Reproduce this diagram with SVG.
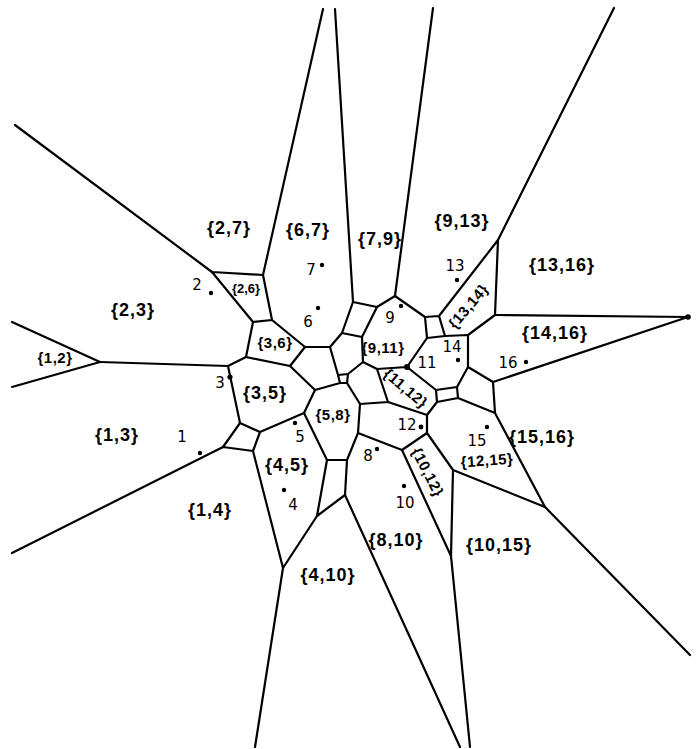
<svg xmlns="http://www.w3.org/2000/svg" width="699" height="749" viewBox="0 0 699 749">
<style>
.e{stroke:#000;stroke-width:2.2;fill:none;stroke-linecap:round;stroke-linejoin:round}
.lb{font-family:"Liberation Sans",Arial,sans-serif;font-weight:bold;font-size:18px;fill:#000;text-anchor:middle;dominant-baseline:central;letter-spacing:1px}
.sm{font-size:15px;letter-spacing:0.5px}
.xs{font-size:13px;letter-spacing:0}
.nm{font-family:"DejaVu Sans",sans-serif;font-size:15px;fill:#000;text-anchor:middle;dominant-baseline:central}
.dt{fill:#000}
</style>
<rect width="699" height="749" fill="#fff"/>
<g id="connectors" class="e">
<line x1="15" y1="125" x2="212" y2="272"/>
<line x1="12" y1="322" x2="100" y2="362"/>
<line x1="12" y1="387" x2="100" y2="362"/>
<line x1="12" y1="553" x2="223" y2="447"/>
<line x1="255" y1="747" x2="283" y2="568"/>
<line x1="460" y1="747" x2="345" y2="495"/>
<line x1="470" y1="747" x2="451" y2="556"/>
<line x1="690" y1="655" x2="545" y2="507"/>
<line x1="688" y1="317" x2="493" y2="382"/>
<line x1="688" y1="317" x2="495" y2="315"/>
<line x1="614" y1="8" x2="498" y2="240"/>
<line x1="433" y1="8" x2="395" y2="296"/>
<line x1="335" y1="9" x2="353" y2="302"/>
<line x1="323" y1="9" x2="263" y2="275"/>
<path d="M212,272 L263,275 M212,272 L253,322 M263,275 L272,320 M253,322 L272,320 M253,322 L246,357 M272,320 L305,347 M246,357 L290,366 M246,357 L228,366 M228,366 L100,362 M228,366 L240,423"/>
<path d="M305,347 L330,347 M305,347 L290,366 M290,366 L315,390 M330,347 L342,333 M330,347 L338,375 M342,333 L353,302 M342,333 L362,337 M353,302 L377,307 M377,307 L395,296 M377,307 L362,337 M362,337 L363,362 M363,362 L348,374 M363,362 L377,369"/>
<path d="M338,375 L348,374 L347,383 L340,383 Z M315,390 L340,383 M315,390 L304,413 M347,383 L360,404 M360,404 L388,402 M388,402 L377,369 M377,369 L407,367 M388,402 L427,415 M360,404 L358,433"/>
<path d="M358,433 L347,460 M358,433 L402,450 M347,460 L327,460 M347,460 L345,495 M327,460 L304,413 M327,460 L317,516 M345,495 L317,516 M317,516 L283,568 M283,568 L253,451 M253,451 L260,432 M253,451 L223,447 M260,432 L240,423 M260,432 L304,413 M240,423 L223,447"/>
<path d="M407,367 L436,390 M407,367 L427,338 M436,390 L457,387 M457,387 L468,367 M468,367 L468,335 M468,335 L445,336 M445,336 L427,338 M436,390 L437,402 M457,387 L458,398 M437,402 L458,398 M437,402 L427,415 M427,415 L427,433 M427,433 L402,450 M427,433 L453,470 M402,450 L451,556 M453,470 L451,556 M453,470 L545,507 M545,507 L495,413 M495,413 L458,398 M495,413 L493,382 M493,382 L468,367"/>
<path d="M468,335 L495,315 M495,315 L498,240 M498,240 L439,316 M439,316 L425,317 M439,316 L445,336 M425,317 L427,338 M425,317 L395,296"/>
</g>
<circle class="dt" cx="688" cy="317" r="2.8"/>
<g id="sites">
<g id="s1"><circle class="dt" cx="200" cy="453" r="2.2"/><text class="nm" x="182" y="437">1</text></g>
<g id="s2"><circle class="dt" cx="211" cy="293" r="2.2"/><text class="nm" x="197" y="285">2</text></g>
<g id="s3"><circle class="dt" cx="230" cy="377" r="2.6"/><text class="nm" x="220" y="383">3</text></g>
<g id="s4"><circle class="dt" cx="284" cy="490" r="2.2"/><text class="nm" x="293" y="505">4</text></g>
<g id="s5"><circle class="dt" cx="295" cy="423" r="2.2"/><text class="nm" x="300" y="437">5</text></g>
<g id="s6"><circle class="dt" cx="318" cy="308" r="2.2"/><text class="nm" x="308" y="322">6</text></g>
<g id="s7"><circle class="dt" cx="322" cy="265" r="2.2"/><text class="nm" x="311" y="270">7</text></g>
<g id="s8"><circle class="dt" cx="377" cy="449" r="2.2"/><text class="nm" x="368" y="456">8</text></g>
<g id="s9"><circle class="dt" cx="401" cy="306" r="2.2"/><text class="nm" x="390" y="318">9</text></g>
<g id="s10"><circle class="dt" cx="404" cy="486" r="2.2"/><text class="nm" x="405" y="503">10</text></g>
<g id="s11"><circle class="dt" cx="407" cy="367" r="3"/><text class="nm" x="427" y="363">11</text></g>
<g id="s12"><circle class="dt" cx="421" cy="427" r="2.4"/><text class="nm" x="407" y="425">12</text></g>
<g id="s13"><circle class="dt" cx="457" cy="280" r="2.2"/><text class="nm" x="455" y="266">13</text></g>
<g id="s14"><circle class="dt" cx="458" cy="360" r="2.2"/><text class="nm" x="452" y="347">14</text></g>
<g id="s15"><circle class="dt" cx="487" cy="427" r="2.2"/><text class="nm" x="477" y="441">15</text></g>
<g id="s16"><circle class="dt" cx="526" cy="362" r="2.2"/><text class="nm" x="508" y="363">16</text></g>
</g>
<g id="labels">
<g id="c2_7"><text class="lb" x="229" y="228">{2,7}</text></g>
<g id="c6_7"><text class="lb" x="308" y="230">{6,7}</text></g>
<g id="c7_9"><text class="lb" x="380" y="239">{7,9}</text></g>
<g id="c9_13"><text class="lb" x="462" y="221">{9,13}</text></g>
<g id="c13_16"><text class="lb" x="562" y="265">{13,16}</text></g>
<g id="c2_3"><text class="lb" x="133" y="310">{2,3}</text></g>
<g id="c2_6"><text class="lb xs" x="246" y="288">{2,6}</text></g>
<g id="c3_6"><text class="lb sm" x="275" y="342">{3,6}</text></g>
<g id="c3_5"><text class="lb" x="265" y="393">{3,5}</text></g>
<g id="c1_2"><text class="lb sm" x="55" y="357">{1,2}</text></g>
<g id="c1_3"><text class="lb" x="117" y="435">{1,3}</text></g>
<g id="c1_4"><text class="lb" x="210" y="510">{1,4}</text></g>
<g id="c4_5"><text class="lb" x="287" y="465">{4,5}</text></g>
<g id="c5_8"><text class="lb sm" x="333" y="414">{5,8}</text></g>
<g id="c9_11"><text class="lb sm" x="383" y="347">{9,11}</text></g>
<g id="c11_12"><text class="lb sm" x="406" y="388" transform="rotate(40 406 388)">{11,12}</text></g>
<g id="c13_14"><text class="lb sm" x="468" y="306" transform="rotate(-50 468 306)">{13,14}</text></g>
<g id="c14_16"><text class="lb" x="555" y="333">{14,16}</text></g>
<g id="c15_16"><text class="lb" x="542" y="437">{15,16}</text></g>
<g id="c12_15"><text class="lb sm" x="487" y="460" transform="rotate(-4 487 460)">{12,15}</text></g>
<g id="c10_12"><text class="lb sm" x="428" y="472" transform="rotate(63 428 472)">{10,12}</text></g>
<g id="c8_10"><text class="lb" x="396" y="540">{8,10}</text></g>
<g id="c10_15"><text class="lb" x="499" y="545">{10,15}</text></g>
<g id="c4_10"><text class="lb" x="328" y="575">{4,10}</text></g>
</g>
</svg>
